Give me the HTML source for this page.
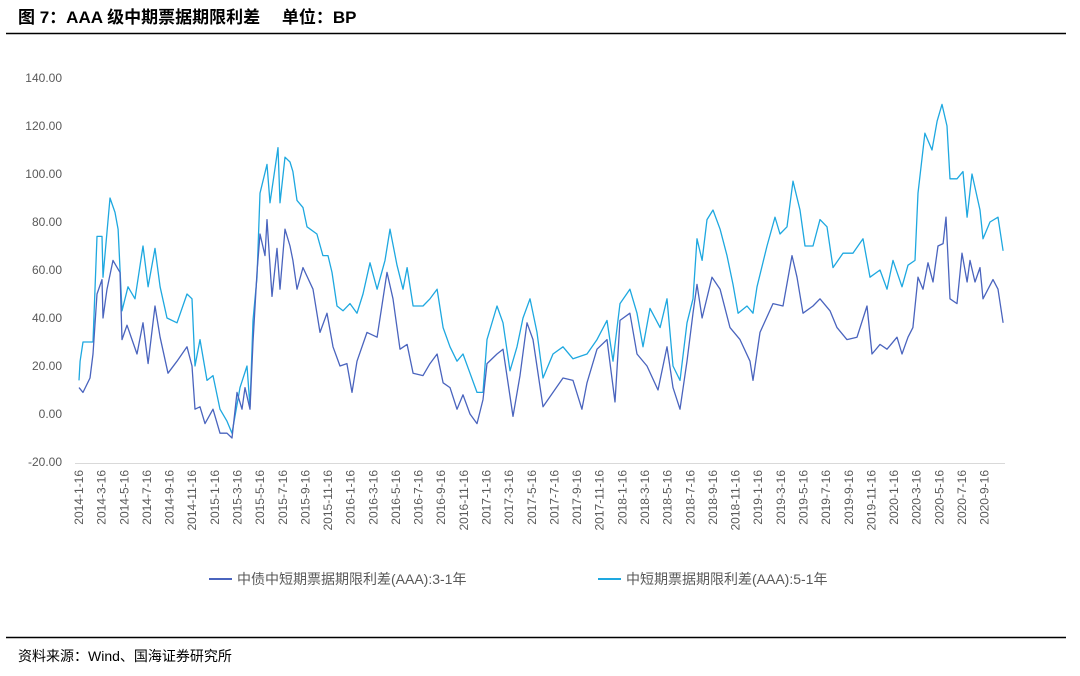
<!DOCTYPE html>
<html><head><meta charset="utf-8"><style>
body{margin:0;background:#fff;width:1080px;height:671px;overflow:hidden;font-family:"Liberation Sans","Noto Sans CJK SC",sans-serif;}
</style></head><body>
<svg width="1080" height="671" xmlns="http://www.w3.org/2000/svg">
<text x="18" y="23" font-size="17" font-weight="bold" fill="#000" font-family="'Liberation Sans','Noto Sans CJK SC',sans-serif">图 7：AAA 级中期票据期限利差　 单位：BP</text>
<line x1="6" y1="33.5" x2="1066" y2="33.5" stroke="#000" stroke-width="1.5"/>
<line x1="75" y1="463.5" x2="1005" y2="463.5" stroke="#d9d9d9" stroke-width="1"/>
<g id="yticks"></g>
<g id="xticks"></g>
<g id="series"></g>
<g>
<g>
<line x1="209" y1="579" x2="232" y2="579" stroke="#4a64be" stroke-width="2"/>
<text x="237" y="584" font-size="14" fill="#595959">中债中短期票据期限利差(AAA):3-1年</text></g>
<g>
<line x1="598" y1="579" x2="621" y2="579" stroke="#1ea8e0" stroke-width="2"/>
<text x="626" y="584" font-size="14" fill="#595959">中短期票据期限利差(AAA):5-1年</text></g>
</g>
<line x1="6" y1="637.5" x2="1066" y2="637.5" stroke="#000" stroke-width="1.5"/>
<text x="18" y="661" font-size="14" fill="#000">资料来源：Wind、国海证券研究所</text>
</svg>
<script>
const yTicks=[-20,0,20,40,60,80,100,120,140];
const xTickLabels=[];
for(let y=2014;y<=2020;y++){for(let m=1;m<=11;m+=2){if(y===2020&&m>9)break;xTickLabels.push(y+'-'+m+'-16');}}
const lightMonths=[0,0.1,0.35,1.24,1.59,2.03,2.12,2.74,3.18,3.45,3.8,4.33,4.95,5.65,6.1,6.71,7.16,7.77,8.66,9.54,9.98,10.25,10.69,11.31,11.84,12.46,13.07,13.52,14.22,14.84,15.11,15.37,15.72,15.99,16.61,16.87,17.58,17.76,18.2,18.64,18.9,19.26,19.79,20.14,21.02,21.55,22,22.35,22.79,23.32,23.94,24.56,25.09,25.71,26.33,27.03,27.47,28.09,28.62,28.98,29.51,30.39,31.01,31.63,32.16,32.77,33.39,33.92,34.54,35.16,35.69,36.04,36.93,37.46,38.07,38.69,39.22,39.84,40.46,40.99,41.87,42.76,43.64,44.88,45.76,46.64,47.17,47.79,48.67,49.29,49.82,50.44,51.33,51.94,52.47,53.09,53.71,54.24,54.59,55.04,55.48,56.01,56.63,57.24,57.77,58.22,59.01,59.54,59.89,60.78,61.48,61.93,62.54,63.07,63.69,64.13,64.84,65.46,66.08,66.61,67.49,68.37,69.26,69.88,70.76,71.38,71.91,72.7,73.23,73.85,74.12,74.73,75.35,75.8,76.24,76.68,76.94,77.56,78.09,78.45,78.89,79.59,79.86,80.48,81.18,81.63];
const lightValues=[14,22,30,30,74,74,57,90,84,77,43,53,48,70,53,69,53,40,38,50,48,20,31,14,16,2,-3,-8,11,20,3,39,57,92,104,88,111,88,107,105,101,89,86,78,75,66,66,59,45,43,46,42,50,63,52,64,77,62,52,61,45,45,48,52,36,28,22,25,17,9,9,31,45,38,18,28,40,48,34,15,25,28,23,25,31,39,22,46,52,42,28,44,36,48,20,14,38,48,73,64,81,85,77,66,54,42,45,42,53,70,82,75,78,97,85,70,70,81,78,61,67,67,73,57,60,52,64,53,62,64,92,117,110,122,129,120,98,98,101,82,100,85,73,80,82,68];
const darkMonths=[0,0.35,0.97,1.24,1.59,2.03,2.12,2.47,3,3.62,3.8,4.24,4.68,5.12,5.65,6.1,6.71,7.16,7.86,8.66,9.54,9.98,10.25,10.69,11.13,11.84,12.46,13.07,13.52,13.96,14.4,14.66,15.11,15.37,15.72,15.99,16.43,16.61,17.05,17.49,17.76,18.2,18.64,18.9,19.26,19.79,20.67,21.29,21.91,22.44,23.06,23.67,24.12,24.56,25.44,26.33,27.21,27.74,28.36,28.98,29.51,30.39,31.01,31.63,32.16,32.77,33.39,33.92,34.54,35.16,35.69,36.04,36.93,37.46,38.34,38.96,39.58,40.11,40.99,41.87,42.76,43.64,44.43,44.88,45.76,46.64,47.35,47.79,48.67,49.29,50.18,51.15,51.94,52.47,53.09,53.71,54.24,54.59,55.04,55.92,56.63,57.51,58.39,59.28,59.54,60.16,61.31,62.19,62.99,63.43,63.96,64.84,65.46,66.34,66.96,67.84,68.73,69.61,70.05,70.76,71.38,72.26,72.7,73.23,73.67,74.12,74.56,75,75.44,75.88,76.33,76.59,76.94,77.56,78,78.45,78.71,79.15,79.59,79.86,80.74,81.18,81.63];
const darkValues=[11,9,15,25,50,56,40,52,64,59,31,37,31,25,38,21,45,32,17,22,28,20,2,3,-4,2,-8,-8,-10,9,2,11,2,30,59,75,66,81,49,69,52,77,70,64,52,61,52,34,42,28,20,21,9,22,34,32,59,48,27,29,17,16,21,25,13,11,2,8,0,-4,6,21,25,27,-1,16,38,31,3,9,15,14,2,13,27,31,5,39,42,25,20,10,28,11,2,22,42,54,40,57,52,36,31,22,14,34,46,45,66,57,42,45,48,43,36,31,32,45,25,29,27,32,25,32,36,57,52,63,55,70,71,82,48,46,67,55,64,55,61,48,56,52,38];

const NS='http://www.w3.org/2000/svg';
const X0=79,MPX=11.32,Y0=414,VPX=2.4;
function xs(m){return X0+m*MPX;}
function ys(v){return Y0-v*VPX;}

const yg=document.getElementById('yticks');
yTicks.forEach(v=>{
  const t=document.createElementNS(NS,'text');
  
  
  t.setAttribute('x',62);t.setAttribute('y',ys(v)+4);
  t.setAttribute('text-anchor','end');t.setAttribute('font-size','12');t.setAttribute('fill','#595959');
  t.textContent=v.toFixed(2);yg.appendChild(t);
});
const xg=document.getElementById('xticks');
xTickLabels.forEach((s,i)=>{
  const t=document.createElementNS(NS,'text');
  
  
  const x=xs(i*2)+4;
  t.setAttribute('transform','translate('+x+',470) rotate(-90)');
  t.setAttribute('text-anchor','end');t.setAttribute('font-size','12');t.setAttribute('fill','#595959');
  t.textContent=s;xg.appendChild(t);
});
const sg=document.getElementById('series');
function line(ms,vs,color,name){
  const p=document.createElementNS(NS,'path');
  
  
  p.setAttribute('d',ms.map((m,i)=>(i?'L':'M')+xs(m).toFixed(1)+','+ys(vs[i]).toFixed(1)).join(''));
  p.setAttribute('fill','none');p.setAttribute('stroke',color);p.setAttribute('stroke-width','1.3');p.setAttribute('stroke-linejoin','round');
  sg.appendChild(p);
}
line(lightMonths,lightValues,'#1ea8e0','series-5-1-line');
line(darkMonths,darkValues,'#4a64be','series-3-1-line');
</script>
</body></html>
